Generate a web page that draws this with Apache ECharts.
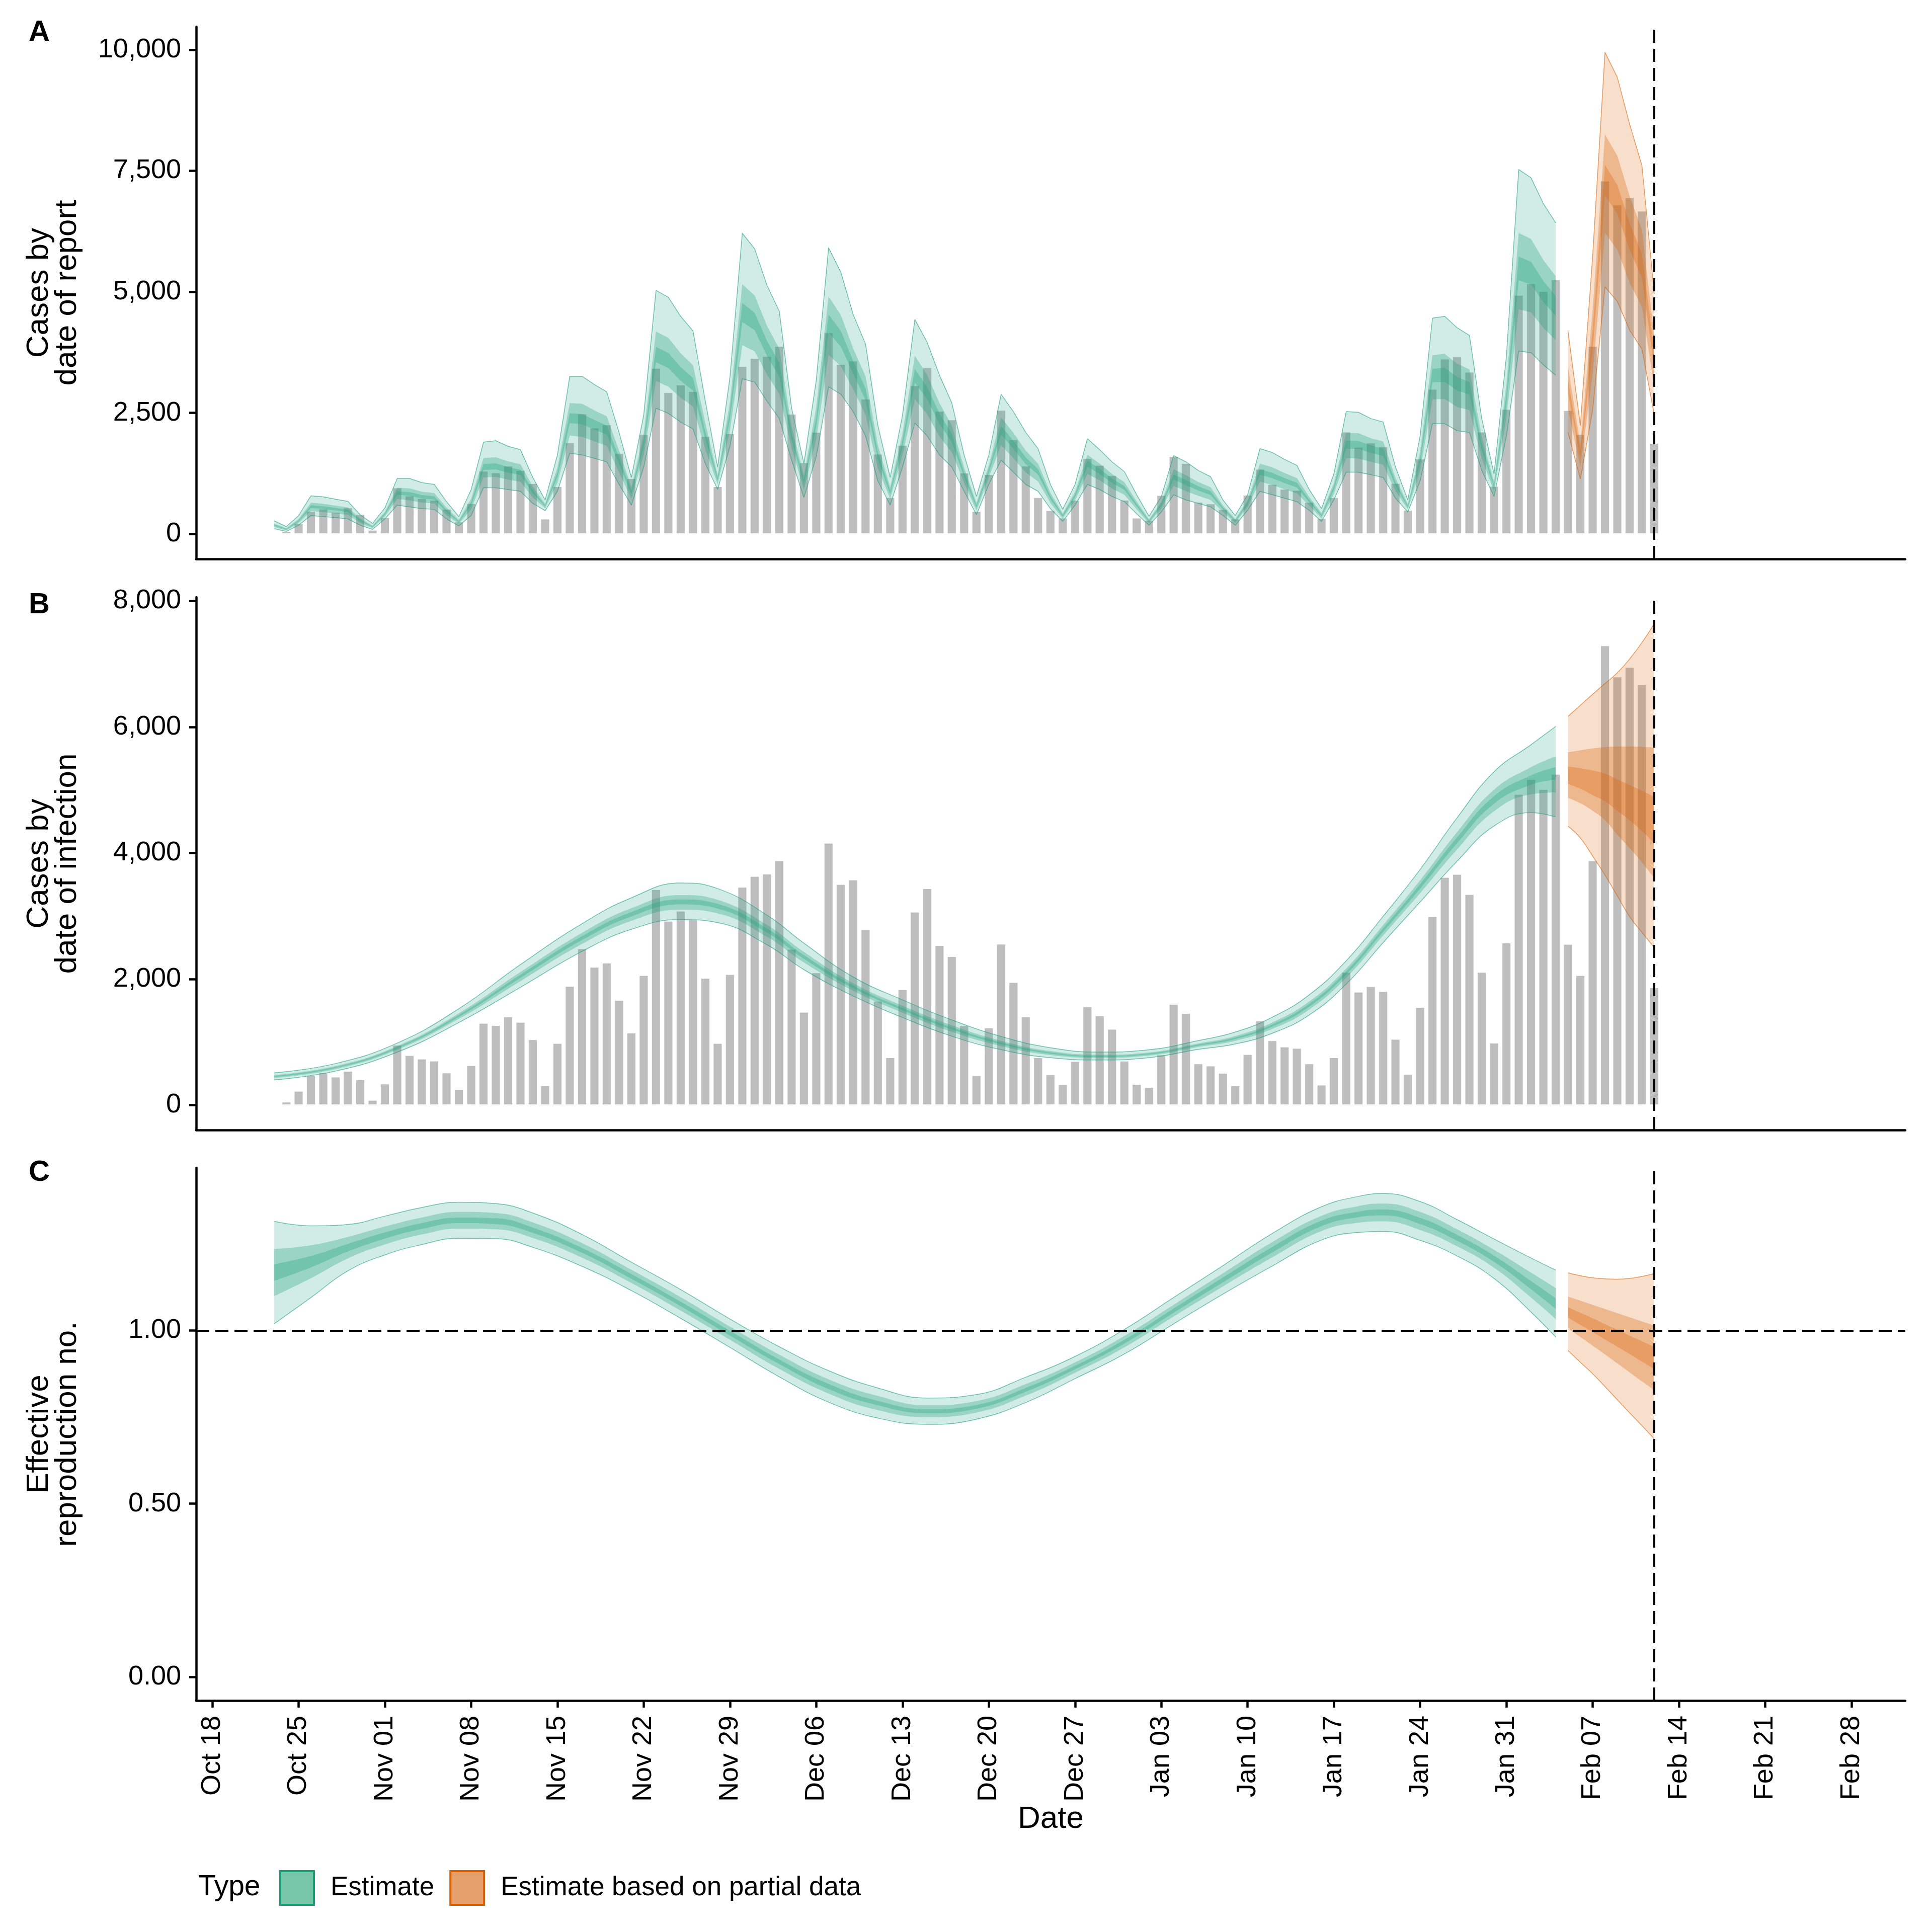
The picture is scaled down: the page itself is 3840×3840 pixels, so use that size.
<!DOCTYPE html>
<html>
<head>
<meta charset="utf-8">
<script src="https://cdn.jsdelivr.net/npm/echarts@6/dist/echarts.min.js"></script>
<style>
html,body{margin:0;padding:0;background:#ffffff;}
#chart{width:3840px;height:3840px;}
</style>
</head>
<body>
<div id="chart"></div>
<script>
// ---------- x axis: days since 2020-10-18 ----------
const tickDays = [0,7,14,21,28,35,42,49,56,63,70,77,84,91,98,105,112,119,126,133];
const tickLabels = ['Oct 18','Oct 25','Nov 01','Nov 08','Nov 15','Nov 22','Nov 29','Dec 06','Dec 13','Dec 20',
                    'Dec 27','Jan 03','Jan 10','Jan 17','Jan 24','Jan 31','Feb 07','Feb 14','Feb 21','Feb 28'];
const reportStartDay = 6;      // Oct 24: first reported-case bar
const estimateStartDay = 5;    // Oct 23: first daily estimate
const partialStartDay = 110;   // Feb 05: estimates based on partial data
const cutoffDay = 117;         // Feb 12: dashed vertical line
const rThreshold = 1;          // dashed horizontal line in panel C

// ---------- reported cases (bars, panels A and B) ----------
const reportedCases = [
  55,225,473,522,451,544,407,82,341,957,
  792,737,704,517,253,632,1303,1270,1407,1320,
  1045,313,984,1891,2485,2194,2260,1666,1149,2062,
  3425,2925,3084,2947,2018,984,2078,3464,3634,3673,
  3882,2480,1479,2106,4162,3508,3579,2793,1655,759,
  1836,3068,3442,2540,2364,1265,473,1232,2562,1952,
  1407,759,489,335,698,1567,1424,1210,704,335,
  286,803,1605,1462,660,627,511,313,808,1342,
  1028,929,907,660,324,759,2111,1798,1886,1809,
  1050,495,1556,2996,3618,3667,3348,2111,990,2579,
  4937,5174,5014,5256,2557,2062,3882,7296,6801,6950,
  6675,1869];

// ---------- panel A: cases by date of report (daily, days 5..117) ----------
const reportHi90 = [
  272,150,379,787,766,716,673,394,215,537,
  1145,1145,1059,1023,666,358,916,1896,1925,1810,
  1739,1166,700,1632,3256,3256,3084,2934,2097,1166,
  2454,5031,4888,4494,4193,2741,1381,3242,6211,5889,
  5138,4601,2598,1453,3170,5911,5403,4530,3921,2240,
  1166,2454,4430,3957,3277,2705,1632,773,1632,2884,
  2526,2097,1760,1023,508,1023,1968,1739,1488,1288,
  809,365,773,1617,1488,1310,1181,701,379,809,
  1760,1682,1539,1417,916,522,1238,2526,2512,2383,
  2311,1381,701,2025,4458,4494,4258,4100,2383,1238,
  3671,7528,7356,6820,6426,4186,2240,5746,9947,9432,
  8466,7607,4959];
const reportHi50 = [
  214,115,309,644,623,583,545,319,172,457,
  952,940,871,843,541,290,728,1566,1584,1497,
  1438,978,623,1369,2700,2688,2551,2428,1721,966,
  2078,4179,4049,3730,3484,2290,1218,2741,5159,4925,
  4299,3825,2222,1207,2619,4907,4521,3829,3257,1839,
  966,2078,3681,3281,2701,2242,1369,640,1419,2408,
  2088,1721,1452,848,421,873,1637,1451,1238,1070,
  671,300,660,1334,1213,1072,963,588,309,696,
  1452,1376,1258,1154,766,430,1050,2088,2079,1977,
  1910,1156,614,1700,3694,3718,3514,3399,2007,1075,
  3095,6216,6091,5655,5324,3455,1852,4632,8251,7812,
  6976,6279,4082];
const reportHi20 = [
  193,102,283,591,570,534,498,291,156,427,
  881,863,801,776,494,265,658,1443,1458,1381,
  1327,909,594,1271,2493,2476,2352,2240,1581,891,
  1939,3863,3737,3446,3221,2123,1158,2555,4769,4567,
  3987,3536,2082,1116,2414,4533,4194,3568,3011,1690,
  891,1939,3403,3030,2487,2069,1271,591,1340,2231,
  1925,1581,1338,783,388,817,1514,1344,1145,989,
  620,276,618,1229,1110,984,882,546,283,654,
  1338,1263,1154,1057,710,395,980,1925,1918,1827,
  1761,1072,581,1579,3411,3429,3238,3139,1868,1015,
  2881,5728,5622,5223,4914,3183,1708,4218,7621,7210,
  6422,5786,3757];
const reportLo20 = [
  171,89,257,538,517,484,450,263,141,397,
  809,787,731,709,448,240,588,1320,1331,1265,
  1215,839,566,1173,2287,2265,2154,2052,1442,817,
  1799,3547,3425,3162,2958,1955,1097,2368,4378,4208,
  3676,3248,1943,1025,2210,4160,3866,3308,2764,1542,
  817,1799,3125,2778,2274,1897,1173,542,1261,2054,
  1762,1442,1223,717,356,761,1392,1237,1052,909,
  569,252,577,1124,1008,895,801,505,257,613,
  1223,1149,1050,959,654,361,910,1762,1757,1676,
  1613,988,549,1458,3127,3141,2961,2878,1728,954,
  2667,5241,5152,4790,4505,2912,1564,3804,6992,6608,
  5869,5293,3431];
const reportLo50 = [
  145,73,225,473,452,423,392,228,121,361,
  721,693,646,626,390,209,503,1169,1176,1122,
  1078,753,531,1053,2032,2006,1911,1821,1270,726,
  1628,3158,3042,2813,2634,1749,1023,2139,3897,3768,
  3292,2893,1771,912,1958,3701,3463,2987,2461,1358,
  726,1628,2782,2469,2010,1686,1053,481,1163,1837,
  1562,1270,1082,637,316,693,1240,1105,937,809,
  506,222,525,995,882,786,701,453,225,561,
  1082,1010,921,839,586,319,825,1562,1559,1491,
  1429,885,509,1309,2778,2786,2621,2558,1557,880,
  2404,4641,4574,4257,4001,2577,1386,3294,6216,5867,
  5187,4686,3030];
const reportLo90 = [
  107,50,179,379,358,336,308,179,93,308,
  594,558,522,508,308,165,379,952,952,916,
  880,630,480,880,1667,1632,1560,1488,1023,594,
  1381,2598,2490,2311,2168,1453,916,1810,3206,3134,
  2741,2383,1524,751,1596,3041,2884,2526,2025,1095,
  594,1381,2290,2025,1632,1381,880,394,1023,1524,
  1274,1023,880,522,258,594,1023,916,773,666,
  415,179,451,809,701,630,558,379,179,487,
  880,809,737,666,487,258,701,1274,1274,1224,
  1166,737,451,1095,2276,2276,2132,2097,1310,773,
  2025,3778,3743,3492,3277,2097,1131,2562,5102,4802,
  4208,3814,2454];

// ---------- panel B: cases by date of infection ----------
const infectionDays = [5,10,15,20,25,30,34,38,41,45,48,52,56,60,64,68,72,76,80,83,86,89,92,95,98,101,104,107,109,
                       110,111,112,113,114,115,116,117];
const infHi90 = [511,660,985,1530,2230,2880,3290,3525,3436,3015,2570,2034,1670,1352,1090,910,842,878,1025,1160,1395,1750,2290,2997,3740,4560,5290,5720,6010,
                 6169,6345,6520,6690,6860,7080,7340,7642];
const infHi50 = [475,620,937,1457,2111,2735,3125,3334,3258,2860,2431,1934,1578,1267,1021,858,800,836,979,1097,1311,1644,2168,2859,3570,4332,5006,5364,5536,
                 5597,5630,5660,5680,5690,5690,5685,5674];
const infHi20 = [462,606,920,1431,2068,2682,3065,3264,3193,2804,2381,1898,1544,1235,996,839,785,821,962,1075,1280,1606,2124,2809,3508,4250,4903,5234,5364,
                 5372,5345,5310,5260,5170,5080,4990,4893];
const infLo20 = [446,589,899,1400,2018,2620,2995,3183,3118,2738,2322,1856,1505,1199,966,817,768,804,942,1048,1245,1561,2072,2751,3436,4153,4783,5083,5163,
                 5097,5020,4920,4820,4670,4520,4350,4151];
const infLo50 = [431,572,879,1369,1967,2559,2925,3102,3043,2672,2263,1814,1466,1163,937,795,750,786,923,1021,1209,1516,2020,2693,3363,4056,4662,4932,4962,
                 4877,4790,4670,4520,4290,4080,3850,3601];
const infLo90 = [401,540,840,1310,1870,2440,2790,2945,2897,2545,2150,1732,1390,1093,880,752,716,752,885,970,1140,1430,1920,2580,3224,3870,4430,4640,4574,
                 4426,4240,3950,3650,3320,2990,2740,2502];

// ---------- panel C: effective reproduction number ----------
const rtDays = [5,8,11,14,17,20,23,26,30,34,38,42,46,50,54,58,62,66,70,74,78,82,86,90,93,95,98,101,104,107,109,
                110,111,112,113,114,115,116,117];
const rtHi90 = [1.315,1.302,1.306,1.330,1.355,1.370,1.366,1.339,1.277,1.197,1.118,1.033,0.953,0.884,0.834,0.805,0.815,0.865,0.925,1.003,1.095,1.187,1.280,1.357,1.387,1.395,1.372,1.320,1.264,1.209,1.174,
                1.166,1.158,1.152,1.149,1.148,1.150,1.156,1.164];
const rtHi50 = [1.235,1.246,1.270,1.300,1.326,1.342,1.339,1.312,1.252,1.175,1.096,1.011,0.930,0.859,0.811,0.784,0.796,0.845,0.908,0.984,1.074,1.165,1.255,1.331,1.359,1.366,1.342,1.292,1.233,1.167,1.122,
                1.098,1.086,1.074,1.062,1.050,1.038,1.026,1.014];
const rtHi20 = [1.191,1.215,1.250,1.283,1.310,1.326,1.324,1.297,1.238,1.163,1.083,0.999,0.916,0.846,0.797,0.773,0.785,0.834,0.898,0.973,1.063,1.153,1.241,1.317,1.343,1.349,1.325,1.276,1.216,1.143,1.093,
                1.067,1.051,1.035,1.018,1.002,0.985,0.969,0.952];
const rtLo20 = [1.143,1.182,1.228,1.265,1.293,1.310,1.307,1.282,1.224,1.149,1.070,0.985,0.903,0.831,0.784,0.761,0.774,0.823,0.888,0.962,1.051,1.139,1.225,1.301,1.327,1.332,1.307,1.259,1.198,1.119,1.062,
                1.037,1.016,0.995,0.974,0.953,0.932,0.910,0.889];
const rtLo50 = [1.099,1.151,1.208,1.248,1.277,1.294,1.292,1.267,1.210,1.137,1.057,0.973,0.889,0.818,0.770,0.750,0.763,0.812,0.878,0.951,1.040,1.127,1.211,1.287,1.311,1.315,1.290,1.243,1.181,1.095,1.033,
                1.006,0.981,0.956,0.931,0.905,0.879,0.853,0.828];
const rtLo90 = [1.019,1.095,1.172,1.218,1.248,1.266,1.265,1.240,1.185,1.115,1.035,0.951,0.866,0.793,0.747,0.729,0.744,0.792,0.861,0.932,1.019,1.105,1.186,1.261,1.283,1.286,1.260,1.215,1.150,1.053,0.981,
                0.942,0.908,0.875,0.838,0.800,0.762,0.725,0.687];

// ---------- axis ticks ----------
const yTicksA = [0,2500,5000,7500,10000];
const yTicksB = [0,2000,4000,6000,8000];
const yTicksC = [0,0.5,1];

// ================= presentation =================
const FONT = '"Liberation Sans", Arial, Helvetica, sans-serif';
const GREEN = [27,158,119];
const ORANGE = [217,95,2];
const rgba = (c, a) => `rgba(${c[0]},${c[1]},${c[2]},${a})`;
const reportEstimateDays = reportHi90.map((_, i) => estimateStartDay + i);

const gridTops = [53, 1187, 2321];
const gridHeights = [1058, 1059, 1059];
const X_MIN = -1.31, X_MAX = 137.37;
const yRanges = [[-518, 10478], [-395, 8060], [-0.0683, 1.4696]];
const yTicks = [yTicksA, yTicksB, yTicksC];
const yNames = ['Cases by\ndate of report', 'Cases by\ndate of infection', 'Effective\nreproduction no.'];

function bandSeries(panel, days, levels, smooth) {
  const out = [];
  const groups = [
    {name: 'Estimate', col: GREEN, keep: d => d < partialStartDay},
    {name: 'Estimate based on partial data', col: ORANGE, keep: d => d >= partialStartDay}
  ];
  groups.forEach(g => {
    const idx = [];
    days.forEach((d, i) => { if (g.keep(d)) idx.push(i); });
    levels.forEach(lv => {
      const stack = 'p' + panel + '_' + g.name + '_' + lv.ci;
      const line = lv.ci === 90 ? {width: 1.5, color: rgba(g.col, 0.6)} : {width: 0, opacity: 0};
      const common = {
        type: 'line', name: g.name, xAxisIndex: panel, yAxisIndex: panel, stack: stack,
        symbol: 'none', showSymbol: false, smooth: smooth, silent: true, z: 3,
        encode: {x: 1, y: 0}, lineStyle: line, emphasis: {disabled: true}, animation: false
      };
      out.push(Object.assign({}, common, {data: idx.map(i => [lv.lo[i], days[i]])}));
      out.push(Object.assign({}, common, {
        areaStyle: {color: rgba(g.col, lv.alpha), opacity: 1},
        data: idx.map(i => [lv.hi[i] - lv.lo[i], days[i]])
      }));
    });
  });
  return out;
}

const levelsA = [
  {ci: 90, lo: reportLo90, hi: reportHi90, alpha: 0.2},
  {ci: 50, lo: reportLo50, hi: reportHi50, alpha: 0.3},
  {ci: 20, lo: reportLo20, hi: reportHi20, alpha: 0.3}
];
const levelsB = [
  {ci: 90, lo: infLo90, hi: infHi90, alpha: 0.2},
  {ci: 50, lo: infLo50, hi: infHi50, alpha: 0.3},
  {ci: 20, lo: infLo20, hi: infHi20, alpha: 0.3}
];
const levelsC = [
  {ci: 90, lo: rtLo90, hi: rtHi90, alpha: 0.2},
  {ci: 50, lo: rtLo50, hi: rtHi50, alpha: 0.3},
  {ci: 20, lo: rtLo20, hi: rtHi20, alpha: 0.3}
];

const barData = reportedCases.map((v, i) => [reportStartDay + i, v]);
const barStyle = {color: '#bebebe', borderColor: 'rgba(255,255,255,0.85)', borderWidth: 1.5};
const dashStyle = {color: '#000000', width: 4, type: [26, 12]};

function refLines(panel, data) {
  return {
    type: 'line', name: 'ref' + panel, xAxisIndex: panel, yAxisIndex: panel,
    data: [], symbol: 'none', silent: true, z: 6, animation: false,
    markLine: {silent: true, symbol: ['none', 'none'], animation: false, label: {show: false},
               lineStyle: dashStyle, emphasis: {disabled: true}, data: data}
  };
}

const series = [
  {type: 'bar', name: 'Reported cases A', xAxisIndex: 0, yAxisIndex: 0, data: barData, barWidth: 19,
   itemStyle: barStyle, silent: true, z: 2, animation: false},
  {type: 'bar', name: 'Reported cases B', xAxisIndex: 1, yAxisIndex: 1, data: barData, barWidth: 19,
   itemStyle: barStyle, silent: true, z: 2, animation: false}
]
  .concat(bandSeries(0, reportEstimateDays, levelsA, false))
  .concat(bandSeries(1, infectionDays, levelsB, 0.45))
  .concat(bandSeries(2, rtDays, levelsC, 0.45))
  .concat([
    refLines(0, [{xAxis: cutoffDay}]),
    refLines(1, [{xAxis: cutoffDay}]),
    refLines(2, [{xAxis: cutoffDay}, {yAxis: rThreshold}])
  ]);

const axisLineStyle = {color: '#000000', width: 4.5};

const grids = gridTops.map((t, i) => ({
  left: 390, width: 3397, top: t, height: gridHeights[i], containLabel: false, outerBoundsMode: 'none'
}));

const xAxes = [0, 1, 2].map(i => ({
  type: 'value', gridIndex: i, min: X_MIN, max: X_MAX,
  axisLine: {show: true, onZero: false, lineStyle: axisLineStyle},
  axisTick: {show: i === 2, length: 14, lineStyle: {color: '#000', width: 4.5}, customValues: tickDays},
  axisLabel: {show: i === 2, customValues: tickDays, rotate: 90, margin: 30, fontSize: 54, color: '#000',
              fontFamily: FONT,
              formatter: v => { const k = tickDays.indexOf(Math.round(v)); return k >= 0 ? tickLabels[k] : ''; }},
  splitLine: {show: false},
  name: i === 2 ? 'Date' : '',
  nameLocation: 'middle', nameGap: 205,
  nameTextStyle: {fontSize: 62, color: '#000', fontFamily: FONT, lineHeight: 62}
}));

const yAxes = [0, 1, 2].map(i => ({
  type: 'value', gridIndex: i, min: yRanges[i][0], max: yRanges[i][1],
  axisLine: {show: true, onZero: false, lineStyle: axisLineStyle},
  axisTick: {show: true, length: 14, lineStyle: {color: '#000', width: 4.5}, customValues: yTicks[i]},
  axisLabel: {show: true, customValues: yTicks[i], margin: 30, fontSize: 54, color: '#000', fontFamily: FONT,
              formatter: v => i === 2 ? Number(v).toFixed(2) : Number(v).toLocaleString('en-US')},
  splitLine: {show: false},
  name: yNames[i], nameLocation: 'middle', nameRotate: 90, nameGap: 228,
  nameTextStyle: {fontSize: 62, color: '#000', fontFamily: FONT, lineHeight: 56, align: 'center'}
}));

const panelLetters = [['A', 65], ['B', 1203], ['C', 2331]].map(([t, y]) => ({
  type: 'text', x: 57, y: y, silent: true,
  style: {text: t, fontSize: 58, fontWeight: 'bold', fill: '#000', fontFamily: FONT,
          align: 'left', verticalAlign: 'middle', textAlign: 'left', textVerticalAlign: 'middle'}
}));

const option = {
  backgroundColor: '#ffffff',
  animation: false,
  textStyle: {fontFamily: FONT},
  grid: grids,
  xAxis: xAxes,
  yAxis: yAxes,
  legend: {
    show: true, left: 555, top: 3717, padding: 0, orient: 'horizontal',
    itemWidth: 67, itemHeight: 67, itemGap: 30, selectedMode: false, icon: 'rect',
    textStyle: {fontSize: 53, color: '#000', fontFamily: FONT, padding: [0, 0, 0, 28]},
    data: [
      {name: 'Estimate', icon: 'rect', itemStyle: {color: '#79c7a9', borderColor: '#1b9e77', borderWidth: 4, opacity: 1}},
      {name: 'Estimate based on partial data', icon: 'rect', itemStyle: {color: '#e6a06b', borderColor: '#d95f02', borderWidth: 4, opacity: 1}}
    ]
  },
  graphic: panelLetters.concat([{
    type: 'text', x: 394, y: 3751, silent: true,
    style: {text: 'Type', fontSize: 57, fill: '#000', fontFamily: FONT,
            align: 'left', verticalAlign: 'middle', textAlign: 'left', textVerticalAlign: 'middle'}
  }]),
  series: series
};

const chart = echarts.init(document.getElementById('chart'), null, {renderer: 'canvas', width: 3840, height: 3840});
chart.setOption(option);
</script>
</body>
</html>
